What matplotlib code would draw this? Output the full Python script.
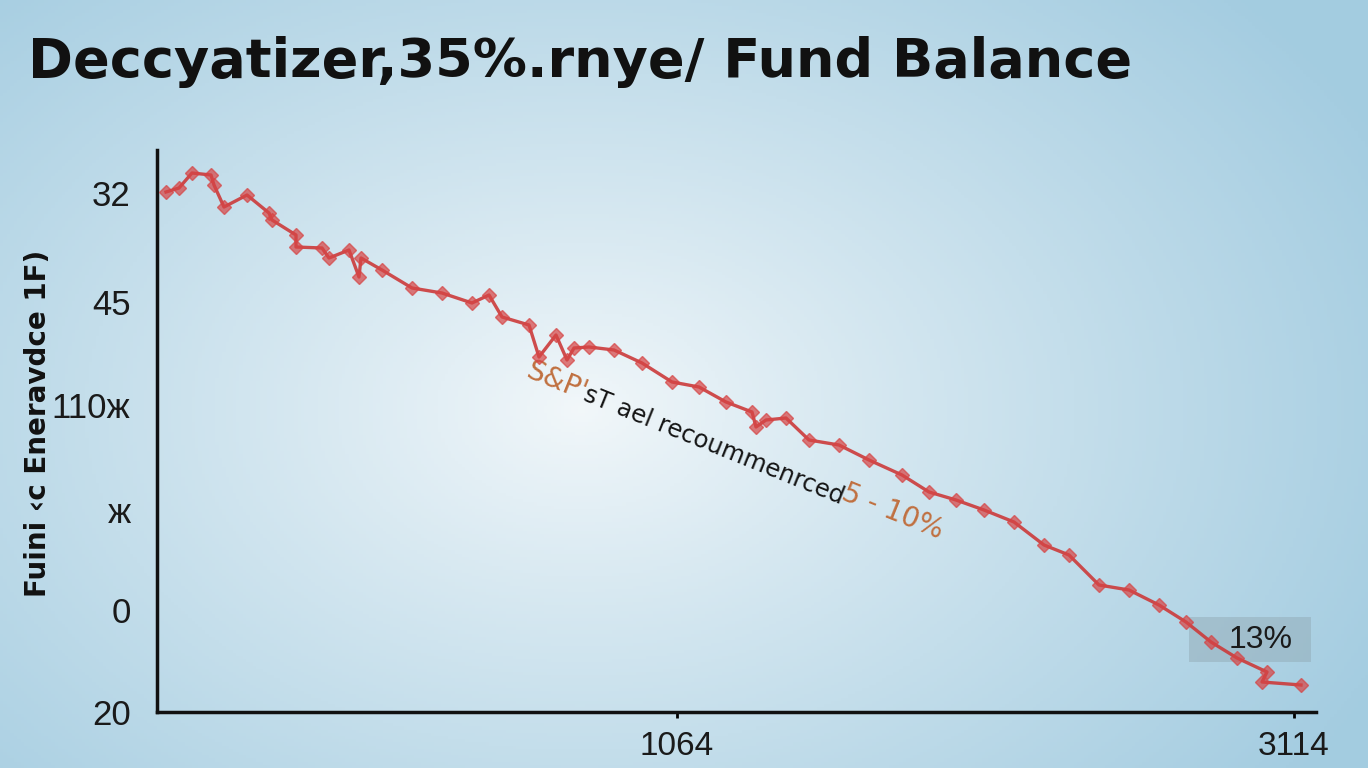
import numpy as np
import matplotlib.pyplot as plt
from matplotlib.patches import Rectangle

# balance line (x, y in chart units)
xs = [9, 22, 35, 54, 57, 67, 90, 112, 115, 139, 139, 165, 172, 192, 202, 204,
      225, 255, 285, 315, 332, 345, 372, 382, 399, 410, 417, 432, 457, 485,
      515, 542, 569, 595, 599, 609, 629, 652, 682, 712, 745, 772, 799, 827,
      857, 887, 912, 942, 972, 1002, 1029, 1054, 1080, 1110, 1105, 1144]
ys = [520, 524, 539, 537, 527, 505, 517, 499, 492, 477, 465, 464, 454, 462, 435, 454,
      442, 424, 419, 409, 417, 395, 387, 355, 377, 352, 364, 365, 362, 349,
      330, 325, 310, 300, 285, 292, 294, 272, 267, 252, 237, 220, 212, 202,
      190, 167, 157, 127, 122, 107, 90, 70, 54, 40, 30, 27]

y_ticks = [519, 410, 307, 202, 102, 0]
y_labels = ['32', '45', '110\u0436', '\u0436', '0', '20']
x_ticks = [520, 1137]
x_labels = ['1064', '3114']

title = 'Deccyatizer,35%.rnye/ Fund Balance'
ylabel = 'Fuini \u2039c Eneravdce 1F)'
fams = ['Liberation Sans', 'DejaVu Sans']

fig = plt.figure(figsize=(13.68, 7.68), dpi=100)

# soft radial background
bg = fig.add_axes([0, 0, 1, 1])
gx, gy = np.meshgrid(np.linspace(0, 1368, 400), np.linspace(0, 768, 240))
r = np.sqrt(((gx - 580) / 900) ** 2 + ((gy - 410) / 620) ** 2)
t = np.clip(r, 0, 1) ** 0.9
c0 = np.array([0.95, 0.97, 0.98])
c1 = np.array([0.64, 0.80, 0.88])
img = c0[None, None, :] * (1 - t[..., None]) + c1[None, None, :] * t[..., None]
bg.imshow(img, extent=[0, 1368, 768, 0], aspect='auto')
bg.set_axis_off()

ax = fig.add_axes([157 / 1368, 56 / 768, 1159 / 1368, 562 / 768])
ax.patch.set_alpha(0)
ax.set_xlim(0, 1159)
ax.set_ylim(0, 562)

ax.plot(xs, ys, color='#cc3a3a', lw=2.4, alpha=0.9, zorder=3)
ax.plot(xs, ys, ls='none', marker='D', ms=7, color='#d64444', alpha=0.7, zorder=4)

for s in ['top', 'right']:
    ax.spines[s].set_visible(False)
for s in ['left', 'bottom']:
    ax.spines[s].set_linewidth(2.5)
    ax.spines[s].set_color('#111111')

ax.set_yticks(y_ticks)
ax.set_yticklabels(y_labels, fontsize=25, family=fams, color='#1a1a1a')
ax.tick_params(axis='y', length=0, pad=19)
ax.set_xticks(x_ticks)
ax.set_xticklabels(x_labels, fontsize=24, family=fams, color='#1a1a1a')
ax.tick_params(axis='x', length=4, width=2, pad=10)

# grey callout box
ax.add_patch(Rectangle((1032, 50), 122, 45, facecolor='#8fa6b0', alpha=0.45,
                       edgecolor='none', zorder=2))
ax.text(1104, 72, '13%', fontsize=23, family=fams, color='#1a1a1a',
        ha='center', va='center', zorder=5)

# slanted annotation
ax.text(370, 342, "S&P'", fontsize=20, color='#c07040', rotation=-22,
        rotation_mode='anchor', ha='left', va='center')
ax.text(428, 318, 'sT ael recoummenrced', fontsize=17.5, color='#151515', rotation=-22,
        rotation_mode='anchor', ha='left', va='center')
ax.text(686, 220, '5 - 10%', fontsize=20, color='#c07040', rotation=-22,
        rotation_mode='anchor', ha='left', va='center')

fig.text(28 / 1368, 1 - 62 / 768, title, fontsize=39, fontweight='bold',
         color='#111111', ha='left', va='center')
fig.text(38 / 1368, 1 - 423 / 768, ylabel, fontsize=20, fontweight='bold',
         color='#111111', rotation=90, ha='center', va='center')

fig.savefig('out.png', dpi=100)
